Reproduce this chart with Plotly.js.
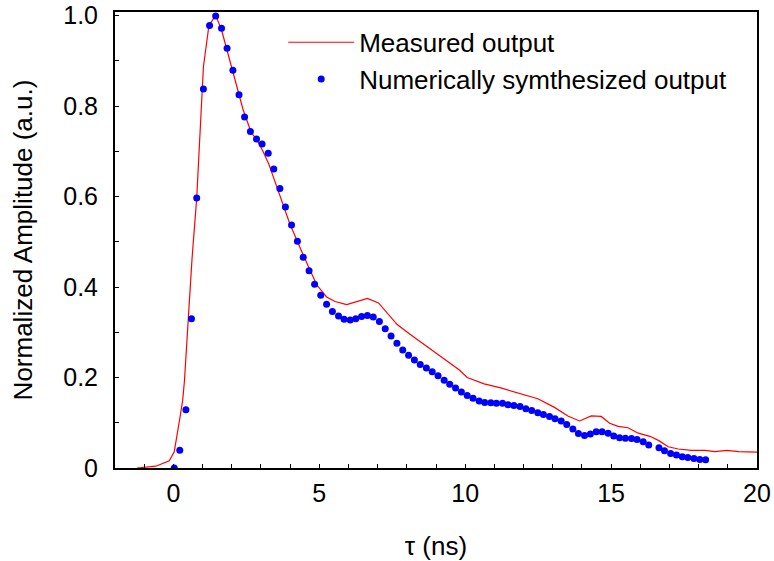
<!DOCTYPE html>
<html>
<head>
<meta charset="utf-8">
<script src="https://cdn.plot.ly/plotly-3.0.1.min.js"></script>
<style>html,body{margin:0;padding:0;background:#fff;}#chart{width:774px;height:561px;}</style>
</head>
<body>
<div id="chart"></div>
<script>
// Measured output (red line)
const measuredT = [-1.25, -0.6, -0.14, 0.03, 0.21, 0.32, 0.38, 0.64, 0.80, 0.88, 1.03, 1.22, 1.45, 1.64, 1.81, 2.04, 2.39, 2.67, 2.85, 3.07, 3.27, 3.57, 3.99, 4.45, 4.91, 5.25, 5.54, 5.94, 6.29, 6.65, 7.03, 7.43, 7.67, 8.12, 8.53, 8.98, 9.5, 9.79, 10.07, 10.65, 11.22, 11.91, 12.49, 13.06, 13.52, 13.92, 14.32, 14.66, 14.95, 15.24, 15.58, 15.93, 16.33, 16.62, 16.96, 17.3, 17.76, 18.22, 18.56, 18.97, 19.37, 20.0];
const measuredA = [0, 0.004, 0.016, 0.036, 0.105, 0.150, 0.193, 0.463, 0.597, 0.700, 0.887, 0.979, 1.0, 0.971, 0.931, 0.880, 0.792, 0.741, 0.727, 0.700, 0.672, 0.617, 0.540, 0.471, 0.405, 0.378, 0.368, 0.361, 0.368, 0.375, 0.365, 0.336, 0.317, 0.295, 0.276, 0.254, 0.230, 0.217, 0.200, 0.186, 0.177, 0.164, 0.153, 0.134, 0.115, 0.104, 0.115, 0.114, 0.099, 0.092, 0.089, 0.077, 0.070, 0.061, 0.047, 0.042, 0.039, 0.039, 0.036, 0.039, 0.036, 0.035];

// Numerically synthesized output (blue dots)
const synthT = [0.03, 0.22, 0.43, 0.62, 0.80, 1.03, 1.24, 1.45, 1.65, 1.84, 2.04, 2.25, 2.44, 2.64, 2.85, 3.04, 3.25, 3.44, 3.65, 3.84, 4.05, 4.25, 4.45, 4.65, 4.84, 5.05, 5.25, 5.45, 5.66, 5.85, 6.06, 6.25, 6.45, 6.65, 6.85, 7.06, 7.26, 7.46, 7.66, 7.86, 8.06, 8.26, 8.46, 8.67, 8.87, 9.07, 9.28, 9.47, 9.67, 9.87, 10.07, 10.27, 10.48, 10.67, 10.88, 11.07, 11.28, 11.47, 11.67, 11.88, 12.08, 12.28, 12.49, 12.68, 12.89, 13.08, 13.29, 13.48, 13.69, 13.88, 14.09, 14.29, 14.49, 14.69, 14.90, 15.09, 15.29, 15.49, 15.70, 15.89, 16.10, 16.29, 16.64, 16.83, 17.04, 17.24, 17.44, 17.63, 17.84, 18.04, 18.24];
const synthA = [0.0, 0.039, 0.129, 0.330, 0.597, 0.838, 0.978, 0.999, 0.972, 0.928, 0.879, 0.825, 0.776, 0.744, 0.727, 0.716, 0.696, 0.661, 0.618, 0.577, 0.537, 0.501, 0.466, 0.436, 0.406, 0.382, 0.362, 0.346, 0.336, 0.329, 0.327, 0.330, 0.335, 0.337, 0.334, 0.324, 0.308, 0.292, 0.276, 0.261, 0.249, 0.239, 0.229, 0.221, 0.213, 0.204, 0.194, 0.185, 0.177, 0.168, 0.160, 0.154, 0.148, 0.145, 0.144, 0.143, 0.143, 0.140, 0.138, 0.136, 0.131, 0.127, 0.122, 0.118, 0.114, 0.109, 0.104, 0.096, 0.086, 0.076, 0.072, 0.075, 0.080, 0.080, 0.077, 0.071, 0.067, 0.066, 0.065, 0.063, 0.058, 0.051, 0.045, 0.038, 0.032, 0.029, 0.025, 0.023, 0.021, 0.019, 0.018];

const seriesNames = ['Measured output', 'Numerically symthesized output'];
const xTickVals = [0, 5, 10, 15, 20];
const xTickText = ['0', '5', '10', '15', '20'];
const yTickVals = [0, 0.2, 0.4, 0.6, 0.8, 1.0];
const yTickText = ['0', '0.2', '0.4', '0.6', '0.8', '1.0'];
const xTitle = 'τ (ns)';
const yTitle = 'Normalized Amplitude (a.u.)';

const FONT = 'Liberation Sans, Arial, sans-serif';
const xRange = [-2, 20];
const yRange = [0, 1.008];

const traces = [
  {x: measuredT, y: measuredA, type: 'scatter', mode: 'lines', name: seriesNames[0],
   line: {color: '#ff0000', width: 1.2}},
  {x: synthT, y: synthA, type: 'scatter', mode: 'markers', name: seriesNames[1],
   marker: {color: '#0000ff', size: 7}}
];

const tickStyle = {
  ticks: 'inside', ticklen: 4, tickwidth: 1, tickcolor: '#000',
  showgrid: false, zeroline: false
};

const layout = {
  width: 774, height: 561,
  margin: {l: 115, r: 17, t: 12, b: 93},
  paper_bgcolor: '#fff', plot_bgcolor: '#fff',
  font: {family: FONT, color: '#000'},
  showlegend: true,
  legend: {x: 0.262, y: 0.985, xanchor: 'left', yanchor: 'top',
    bgcolor: 'rgba(0,0,0,0)', borderwidth: 0,
    font: {family: FONT, size: 26, color: '#000'}, itemwidth: 66, tracegroupgap: 0},
  xaxis: Object.assign({}, tickStyle, {
    range: xRange, tickvals: xTickVals, ticktext: xTickText,
    showline: true, linecolor: '#000', linewidth: 2, mirror: true,
    tickfont: {family: FONT, size: 25, color: '#000'}, ticklabelstandoff: 2,
    ticklabeloverflow: 'allow',
    minor: {dtick: 1, tick0: 0, ticks: 'inside', ticklen: 4, tickcolor: '#000'},
    title: {text: xTitle, font: {family: FONT, size: 26, color: '#000'}, standoff: 31}
  }),
  yaxis: Object.assign({}, tickStyle, {
    range: yRange, tickvals: yTickVals, ticktext: yTickText,
    showline: true, linecolor: '#000', linewidth: 2, mirror: true,
    tickfont: {family: FONT, size: 25, color: '#000'}, ticklabelstandoff: 10,
    ticklabeloverflow: 'allow',
    minor: {dtick: 0.1, tick0: 0, ticks: 'inside', ticklen: 4, tickcolor: '#000'},
    title: {text: yTitle, font: {family: FONT, size: 26, color: '#000'}, standoff: 23}
  }),
  xaxis2: Object.assign({}, tickStyle, {
    overlaying: 'x', side: 'top', anchor: 'y', range: xRange, tickvals: xTickVals,
    showticklabels: false, showline: false,
    minor: {dtick: 1, tick0: 0, ticks: 'inside', ticklen: 4, tickcolor: '#000'}
  }),
  yaxis2: Object.assign({}, tickStyle, {
    overlaying: 'y', side: 'right', anchor: 'x', range: yRange, tickvals: yTickVals,
    showticklabels: false, showline: false,
    minor: {dtick: 0.1, tick0: 0, ticks: 'inside', ticklen: 4, tickcolor: '#000'}
  })
};

Plotly.newPlot('chart', traces, layout, {displayModeBar: false, staticPlot: true});
</script>
</body>
</html>
